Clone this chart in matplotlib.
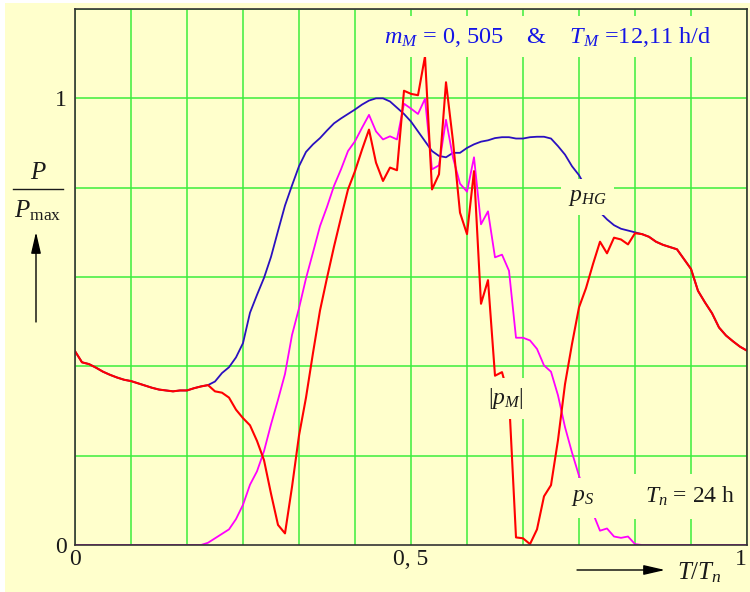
import numpy as np
import matplotlib
matplotlib.use("Agg")
import matplotlib.pyplot as plt
from matplotlib.lines import Line2D
from matplotlib.patches import Rectangle

plt.rcParams['font.family'] = ['Liberation Serif', 'DejaVu Serif']
plt.rcParams['mathtext.fontset'] = 'custom'
plt.rcParams['mathtext.rm'] = 'Liberation Serif'
plt.rcParams['mathtext.it'] = 'Liberation Serif:italic'

# ---- data (T/Tn sampled in 1/96 steps) ----
t = np.linspace(0, 1, 97)

p_M = [0.434, 0.409, 0.405, 0.397, 0.388, 0.381, 0.375, 0.370, 0.367, 0.362,
       0.357, 0.352, 0.348, 0.346, 0.344, 0.346, 0.346, 0.351, 0.355, 0.358,
       0.344, 0.341, 0.330, 0.303, 0.284, 0.268, 0.233, 0.190, 0.115, 0.045,
       0.026, 0.130, 0.245, 0.330, 0.430, 0.525, 0.598, 0.668, 0.733, 0.796,
       0.837, 0.885, 0.930, 0.856, 0.815, 0.845, 0.839, 1.017, 1.010, 1.007,
       1.094, 0.796, 0.830, 1.036, 0.904, 0.744, 0.696, 0.837, 0.540, 0.593,
       0.379, 0.387, 0.330, 0.017, 0.015, 0.002, 0.035, 0.109, 0.134, 0.235,
       0.360, 0.450, 0.532, 0.575, 0.629, 0.679, 0.653, 0.688, 0.684, 0.673,
       0.698, 0.696, 0.690, 0.679, 0.672, 0.667, 0.662, 0.640, 0.618, 0.569,
       0.543, 0.519, 0.487, 0.469, 0.456, 0.444, 0.435]

p_HG = [0.434, 0.409, 0.405, 0.397, 0.388, 0.381, 0.375, 0.370, 0.367, 0.362,
        0.357, 0.352, 0.348, 0.346, 0.344, 0.346, 0.346, 0.351, 0.355, 0.358,
        0.366, 0.385, 0.398, 0.420, 0.452, 0.520, 0.560, 0.598, 0.645, 0.703,
        0.760, 0.805, 0.848, 0.880, 0.897, 0.911, 0.928, 0.944, 0.955, 0.965,
        0.975, 0.986, 0.995, 1.000, 1.000, 0.993, 0.979, 0.965, 0.948, 0.926,
        0.904, 0.882, 0.871, 0.868, 0.878, 0.878, 0.889, 0.897, 0.903, 0.906,
        0.911, 0.913, 0.913, 0.910, 0.910, 0.913, 0.914, 0.914, 0.910, 0.893,
        0.874, 0.848, 0.828, 0.800, 0.770, 0.745, 0.729, 0.716, 0.708, 0.704,
        0.700, 0.696, 0.690, 0.679, 0.672, 0.667, 0.662, 0.640, 0.618, 0.569,
        0.543, 0.519, 0.487, 0.469, 0.456, 0.444, 0.435]

p_S = [0.0, 0.0, 0.0, 0.0, 0.0, 0.0, 0.0, 0.0, 0.0, 0.0,
       0.0, 0.0, 0.0, 0.0, 0.0, 0.0, 0.0, 0.0, 0.0, 0.005,
       0.015, 0.025, 0.035, 0.058, 0.090, 0.135, 0.165, 0.210, 0.270, 0.325,
       0.383, 0.470, 0.530, 0.597, 0.655, 0.714, 0.757, 0.804, 0.841, 0.882,
       0.904, 0.934, 0.963, 0.926, 0.908, 0.915, 0.908, 0.988, 0.977, 0.965,
       0.999, 0.841, 0.850, 0.952, 0.867, 0.809, 0.791, 0.868, 0.718, 0.747,
       0.644, 0.650, 0.614, 0.464, 0.464, 0.458, 0.439, 0.402, 0.388, 0.335,
       0.264, 0.207, 0.155, 0.110, 0.071, 0.032, 0.037, 0.019, 0.016, 0.019,
       0.002, 0.0, 0.0, 0.0, 0.0, 0.0, 0.0, 0.0, 0.0, 0.0,
       0.0, 0.0, 0.0, 0.0, 0.0, 0.0, 0.0]

x_grid = [i / 12 for i in range(13)]
y_grid = [0.2, 0.4, 0.6, 0.8, 1.0, 1.2]
x_ticks = [0, 0.5, 1]
x_ticklabels = ['0', '0, 5', '1']
y_ticks = [0, 1]
y_ticklabels = ['0', '1']

BG = '#FFFFCC'
GRID = '#3CEE3C'
INK = '#1A1A1A'
W, H = 750, 592

fig = plt.figure(figsize=(W / 100, H / 100), dpi=100, facecolor=BG)
fig.patches.append(Rectangle((0, 1 - 3 / H), 1, 3 / H, transform=fig.transFigure,
                             fc='white', ec='none', zorder=0))
fig.patches.append(Rectangle((0, 0), 5 / W, 1, transform=fig.transFigure,
                             fc='white', ec='none', zorder=0))

def fx(px):
    return px / W

def fy(py):
    return 1 - py / H

ax = fig.add_axes([fx(75), fy(545), (747 - 75) / W, (545 - 9) / H])
ax.set_facecolor(BG)
ax.set_xlim(0, 1)
ax.set_ylim(0, 1.2)

for gx in x_grid:
    ax.axvline(gx, color=GRID, lw=1.1, zorder=1)
for gy in y_grid:
    ax.axhline(gy, color=GRID, lw=1.1, zorder=1)

ax.plot(t, p_HG, color='#2A10C0', lw=1.3, zorder=3)
ax.plot(t, p_S, color='#FF00FF', lw=1.3, zorder=3)
ax.plot(t, p_M, color='#FF0000', lw=1.5, zorder=4)

for s in ax.spines.values():
    s.set_color('#333333')
    s.set_linewidth(1.2)
    s.set_zorder(6)

ax.set_xticks(x_ticks)
ax.set_xticklabels(x_ticklabels)
ax.set_yticks(y_ticks)
ax.set_yticklabels(y_ticklabels)
ax.tick_params(length=0, labelsize=17, colors=INK, pad=3)
ax.tick_params(axis='y', pad=6)
xl = ax.get_xticklabels()
xl[-1].set_horizontalalignment('right')

def lab(x, y, s, pad=0.3, color=INK, size=17):
    ax.text(x, y, s, ha='center', va='center', color=color, fontsize=size, zorder=7,
            bbox=dict(boxstyle='square,pad=%g' % pad, fc=BG, ec='none'))

lab(0.763, 0.779, r'$p_{HG}$', pad=0.3)
lab(0.641, 0.328, r'$|p_M|$', pad=0.35)
lab(0.756, 0.106, r'$p_S$', pad=0.4)
lab(0.915, 0.109, r'$T_n$ = 24 h', pad=0.45)
lab(0.703, 1.138, r'$m_M$ = 0, 505    &    $T_M$ =12,11 h/d', pad=0.35, color='#1515E6',
    size=17.5)

# y-axis label: P / P_max with upward arrow
fig.text(fx(38), fy(173), r'$P$', ha='center', va='center', fontsize=18, color=INK)
fig.lines.append(Line2D([fx(13), fx(63)], [fy(189), fy(189)], transform=fig.transFigure,
                        color=INK, lw=1.0))
fig.text(fx(38), fy(211), r'$P_{\mathrm{max}}$', ha='center', va='center', fontsize=18,
         color=INK)
ax.annotate('', xy=(fx(36), fy(232)), xytext=(fx(36), fy(322)),
            xycoords='figure fraction', textcoords='figure fraction',
            arrowprops=dict(arrowstyle='-|>,head_length=1.3,head_width=0.3', color='black',
                            lw=1.0, shrinkA=0, shrinkB=0))

# x-axis label: arrow + T/T_n
ax.annotate('', xy=(fx(665), fy(570)), xytext=(fx(577), fy(570)),
            xycoords='figure fraction', textcoords='figure fraction',
            arrowprops=dict(arrowstyle='-|>,head_length=1.3,head_width=0.3', color='black',
                            lw=1.0, shrinkA=0, shrinkB=0))
fig.text(fx(699), fy(573), r'$T/T_n$', ha='center', va='center', fontsize=18, color=INK)

fig.savefig('out.png', dpi=100, facecolor=fig.get_facecolor())
